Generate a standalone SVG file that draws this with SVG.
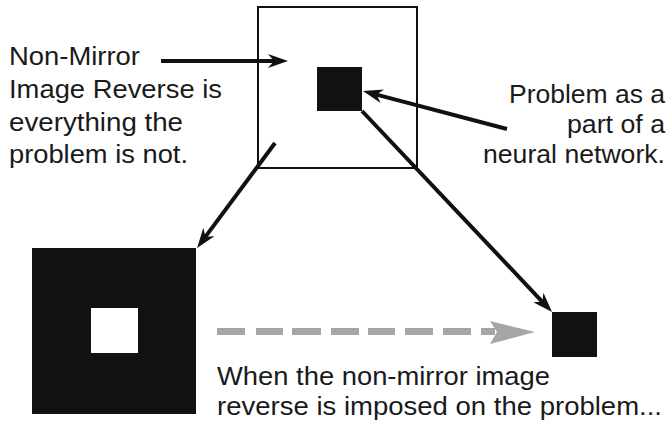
<svg xmlns="http://www.w3.org/2000/svg" width="672" height="422" viewBox="0 0 672 422">
<style>
.t{font-family:"Liberation Sans",Arial,Helvetica,sans-serif;font-size:25px;fill:#1a1a1a}
.conn line{stroke:#111;stroke-width:4;fill:none;marker-end:url(#ah)}
.blk{fill:#111}
.dash{fill:#a6a6a6}
</style>
<defs>
<marker id="ah" markerUnits="userSpaceOnUse" viewBox="0 0 20 14" markerWidth="20" markerHeight="14" refX="8" refY="7" orient="auto">
<path d="M0,0 L20,7 L0,14 L6,7 Z" fill="#111"/>
</marker>
</defs>
<rect width="672" height="422" fill="#fff"/>
<g id="network-box">
<rect x="258" y="7" width="159" height="161" fill="none" stroke="#111" stroke-width="2"/>
</g>
<g id="problem">
<rect class="blk" x="317" y="67" width="45" height="44"/>
</g>
<g id="reverse">
<rect class="blk" x="32" y="248" width="164" height="166"/>
<rect x="91" y="308" width="47" height="45" fill="#fff"/>
</g>
<g id="problem-small">
<rect class="blk" x="552" y="312" width="45" height="45"/>
</g>
<g id="label-left">
<text class="t" x="9" y="65" textLength="131" lengthAdjust="spacingAndGlyphs">Non-Mirror</text>
<text class="t" x="9" y="98" textLength="213" lengthAdjust="spacingAndGlyphs">Image Reverse is</text>
<text class="t" x="9" y="131" textLength="174" lengthAdjust="spacingAndGlyphs">everything the</text>
<text class="t" x="9" y="163" textLength="179" lengthAdjust="spacingAndGlyphs">problem is not.</text>
</g>
<g id="label-right">
<text class="t" x="509" y="103" textLength="156" lengthAdjust="spacingAndGlyphs">Problem as a</text>
<text class="t" x="567" y="133" textLength="98" lengthAdjust="spacingAndGlyphs">part of a</text>
<text class="t" x="483" y="163" textLength="182" lengthAdjust="spacingAndGlyphs">neural network.</text>
</g>
<g id="label-bottom">
<text class="t" x="217" y="385" textLength="333" lengthAdjust="spacingAndGlyphs">When the non-mirror image</text>
<text class="t" x="217" y="415" textLength="445" lengthAdjust="spacingAndGlyphs">reverse is imposed on the problem...</text>
</g>
<g id="connectors" class="conn">
<line x1="161" y1="61" x2="276" y2="61"/>
<line x1="507" y1="129" x2="374.6" y2="94.1"/>
<line x1="275" y1="143" x2="204.2" y2="238.4"/>
<line x1="362" y1="111" x2="543.8" y2="303.3"/>
<g id="imposed-arrow">
<rect class="dash" x="217" y="328" width="28" height="7"/>
<rect class="dash" x="256" y="328" width="27" height="7"/>
<rect class="dash" x="292" y="328" width="29" height="7"/>
<rect class="dash" x="331" y="328" width="28" height="7"/>
<rect class="dash" x="368" y="328" width="27" height="7"/>
<rect class="dash" x="405" y="328" width="28" height="7"/>
<rect class="dash" x="443" y="328" width="28" height="7"/>
<rect class="dash" x="481" y="328" width="14" height="7"/>
<polygon class="dash" points="490,321 535,332 490,344 497,332"/>
</g>
</g>
</svg>
